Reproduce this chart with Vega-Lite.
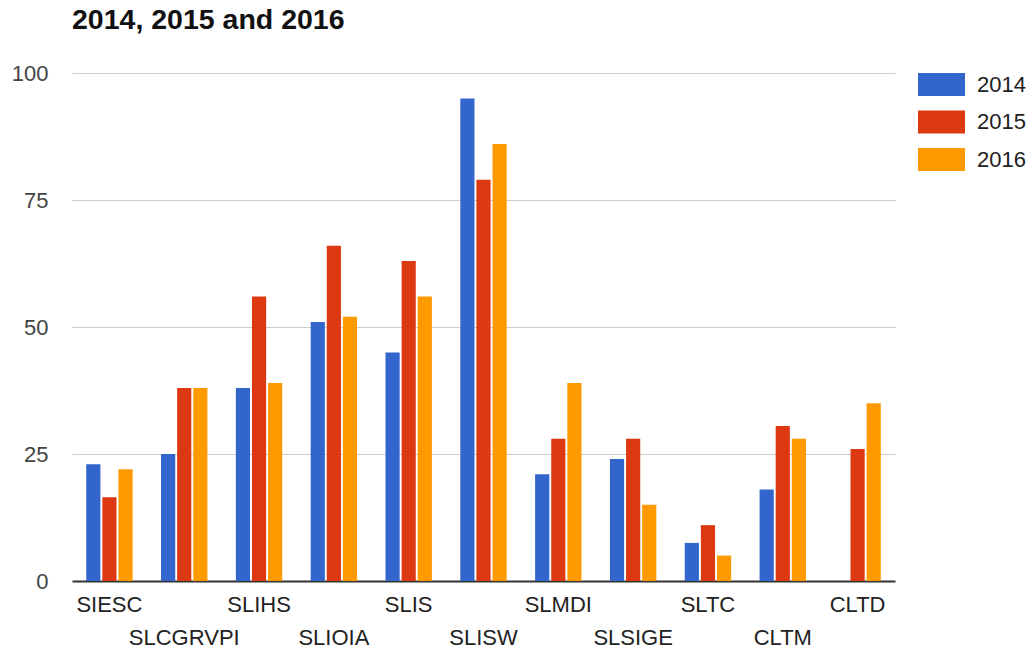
{
  "$schema": "https://vega.github.io/schema/vega-lite/v6.json",
  "width": 823,
  "height": 508,
  "autosize": {"type": "none"},
  "padding": {"left": 72, "top": 73, "right": 137, "bottom": 71},
  "background": "white",
  "title": {
    "text": "2014, 2015 and 2016",
    "anchor": "start",
    "frame": "group",
    "font": "Liberation Sans",
    "fontSize": 28.5,
    "fontWeight": "bold",
    "color": "#111111",
    "baseline": "top",
    "offset": 27
  },
  "data": {
    "values": [
      {"cat": "SIESC", "year": "2014", "value": 23},
      {"cat": "SIESC", "year": "2015", "value": 16.5},
      {"cat": "SIESC", "year": "2016", "value": 22},
      {"cat": "SLCGRVPI", "year": "2014", "value": 25},
      {"cat": "SLCGRVPI", "year": "2015", "value": 38},
      {"cat": "SLCGRVPI", "year": "2016", "value": 38},
      {"cat": "SLIHS", "year": "2014", "value": 38},
      {"cat": "SLIHS", "year": "2015", "value": 56},
      {"cat": "SLIHS", "year": "2016", "value": 39},
      {"cat": "SLIOIA", "year": "2014", "value": 51},
      {"cat": "SLIOIA", "year": "2015", "value": 66},
      {"cat": "SLIOIA", "year": "2016", "value": 52},
      {"cat": "SLIS", "year": "2014", "value": 45},
      {"cat": "SLIS", "year": "2015", "value": 63},
      {"cat": "SLIS", "year": "2016", "value": 56},
      {"cat": "SLISW", "year": "2014", "value": 95},
      {"cat": "SLISW", "year": "2015", "value": 79},
      {"cat": "SLISW", "year": "2016", "value": 86},
      {"cat": "SLMDI", "year": "2014", "value": 21},
      {"cat": "SLMDI", "year": "2015", "value": 28},
      {"cat": "SLMDI", "year": "2016", "value": 39},
      {"cat": "SLSIGE", "year": "2014", "value": 24},
      {"cat": "SLSIGE", "year": "2015", "value": 28},
      {"cat": "SLSIGE", "year": "2016", "value": 15},
      {"cat": "SLTC", "year": "2014", "value": 7.5},
      {"cat": "SLTC", "year": "2015", "value": 11},
      {"cat": "SLTC", "year": "2016", "value": 5},
      {"cat": "CLTM", "year": "2014", "value": 18},
      {"cat": "CLTM", "year": "2015", "value": 30.5},
      {"cat": "CLTM", "year": "2016", "value": 28},
      {"cat": "CLTD", "year": "2015", "value": 26},
      {"cat": "CLTD", "year": "2016", "value": 35}
    ]
  },
  "mark": {"type": "bar"},
  "encoding": {
    "x": {
      "field": "cat",
      "type": "nominal",
      "sort": null,
      "title": null,
      "scale": {"paddingInner": 0.38, "paddingOuter": 0.19},
      "axis": {
        "labelAngle": 0,
        "labelFont": "Liberation Sans",
        "labelFontSize": 22,
        "labelColor": "#222222",
        "labelBaseline": "top",
        "labelPadding": 13,
        "labelLineHeight": 33,
        "labelOverlap": false,
        "labelExpr": "indexof(['SLCGRVPI','SLIOIA','SLISW','SLSIGE','CLTM'], datum.value) >= 0 ? ['', datum.value] : datum.value",
        "ticks": false,
        "domainColor": "#333333",
        "domainWidth": 2,
        "grid": false
      }
    },
    "xOffset": {
      "field": "year",
      "type": "nominal",
      "scale": {"paddingInner": 0.12}
    },
    "y": {
      "field": "value",
      "type": "quantitative",
      "title": null,
      "scale": {"domain": [0, 100], "nice": false},
      "axis": {
        "values": [0, 25, 50, 75, 100],
        "labelFont": "Liberation Sans",
        "labelFontSize": 22,
        "labelColor": "#444444",
        "labelPadding": 24,
        "ticks": false,
        "domain": false,
        "gridColor": "#cccccc",
        "gridWidth": 1
      }
    },
    "color": {
      "field": "year",
      "type": "nominal",
      "title": null,
      "scale": {"domain": ["2014", "2015", "2016"], "range": ["#3366cc", "#dc3912", "#ff9900"]},
      "legend": {
        "orient": "none",
        "legendX": 846,
        "legendY": -12,
        "symbolType": "M-1,-0.49H1V0.49H-1Z",
        "symbolSize": 2209,
        "symbolStrokeWidth": 0,
        "symbolOpacity": 1,
        "labelFont": "Liberation Sans",
        "labelFontSize": 22,
        "labelColor": "#222222",
        "labelOffset": 12,
        "rowPadding": 1.5
      }
    }
  },
  "config": {"view": {"stroke": null}}
}
